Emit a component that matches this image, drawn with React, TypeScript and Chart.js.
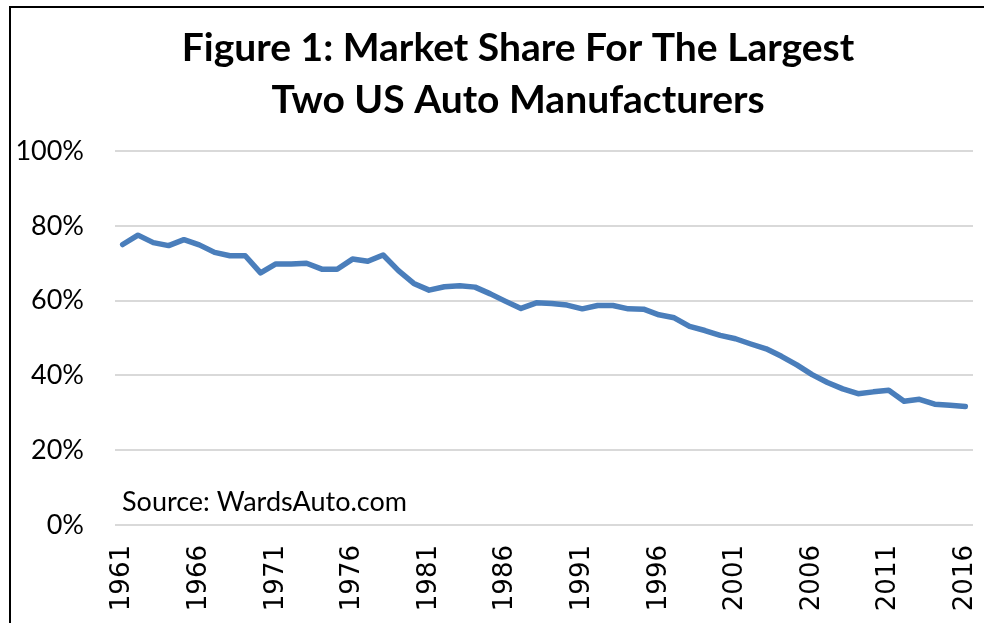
import React, { useEffect, useRef } from "react";
import { Chart, registerables } from "chart.js";

Chart.register(...registerables);

const years: string[] = [
  "1961", "1962", "1963", "1964", "1965", "1966", "1967", "1968", "1969", "1970",
  "1971", "1972", "1973", "1974", "1975", "1976", "1977", "1978", "1979", "1980",
  "1981", "1982", "1983", "1984", "1985", "1986", "1987", "1988", "1989", "1990",
  "1991", "1992", "1993", "1994", "1995", "1996", "1997", "1998", "1999", "2000",
  "2001", "2002", "2003", "2004", "2005", "2006", "2007", "2008", "2009", "2010",
  "2011", "2012", "2013", "2014", "2015", "2016",
];

const marketShare: number[] = [
  75.0, 77.5, 75.5, 74.7, 76.3, 74.9, 72.9, 72.0, 72.0, 67.4,
  69.8, 69.8, 70.0, 68.4, 68.4, 71.1, 70.5, 72.2, 68.0, 64.6,
  62.8, 63.7, 64.0, 63.6, 61.8, 59.8, 57.9, 59.4, 59.2, 58.8,
  57.8, 58.7, 58.7, 57.8, 57.7, 56.2, 55.4, 53.1, 52.0, 50.7,
  49.8, 48.4, 47.1, 45.1, 42.8, 40.2, 38.1, 36.4, 35.1, 35.6,
  36.0, 33.1, 33.6, 32.3, 32.0, 31.7,
];

const yMin = 0;
const yMax = 100;
const yStep = 20;
const labelEvery = 5;

const titleLines: string[] = [
  "Figure 1: Market Share For The Largest",
  "Two US Auto Manufacturers",
];
const sourceNote = "Source: WardsAuto.com";

const titlePlugin = {
  id: "twoLineTitle",
  afterDraw(chart: any) {
    const { ctx } = chart;
    ctx.save();
    ctx.font = "bold 39px Lato";
    ctx.fillStyle = "#000000";
    ctx.textAlign = "center";
    ctx.textBaseline = "middle";
    ctx.fillText(titleLines[0], 518, 48);
    ctx.fillText(titleLines[1], 518, 100);
    ctx.restore();
  },
};

const sourcePlugin = {
  id: "sourceNote",
  afterDraw(chart: any) {
    const { ctx, chartArea } = chart;
    const yScale = chart.scales.y;
    ctx.save();
    ctx.font = "27px Lato";
    ctx.fillStyle = "#000000";
    ctx.textAlign = "left";
    ctx.textBaseline = "middle";
    ctx.fillText(sourceNote, chartArea.left + 7, yScale.getPixelForValue(6.1));
    ctx.restore();
  },
};

export default function App() {
  const canvasRef = useRef<HTMLCanvasElement | null>(null);

  useEffect(() => {
    const canvas = canvasRef.current;
    if (!canvas) return;
    const chart = new Chart(canvas, {
      type: "line",
      data: {
        labels: years,
        datasets: [
          {
            label: "Market share",
            data: marketShare,
            borderColor: "#4a7ebb",
            backgroundColor: "#4a7ebb",
            borderWidth: 5.5,
            pointRadius: 0,
            tension: 0,
            borderJoinStyle: "round",
            borderCapStyle: "round",
            fill: false,
          },
        ],
      },
      options: {
        animation: false,
        responsive: false,
        devicePixelRatio: 1,
        layout: { padding: { left: 0, right: 11, top: 151, bottom: 0 } },
        plugins: {
          legend: { display: false },
          tooltip: { enabled: false },
          title: { display: false },
        },
        scales: {
          x: {
            type: "category",
            offset: true,
            grid: { display: false, drawTicks: false },
            border: { display: false },
            afterFit(scale: any) {
              scale.height = 98;
              scale.paddingLeft = 0;
              scale.paddingRight = 0;
            },
            ticks: {
              autoSkip: false,
              minRotation: 90,
              maxRotation: 90,
              padding: 20,
              color: "#000000",
              font: { family: "'DejaVu Sans'", size: 26 },
              callback(_v: any, i: number) {
                return i % labelEvery === 0 ? years[i] : "";
              },
            },
          },
          y: {
            min: yMin,
            max: yMax,
            grid: { color: "#d9d9d9", lineWidth: 2, drawTicks: false },
            border: { display: false },
            afterFit(scale: any) {
              scale.width = 115;
              scale.paddingTop = 0;
              scale.paddingBottom = 0;
            },
            ticks: {
              stepSize: yStep,
              padding: 31,
              color: "#000000",
              font: { family: "Lato", size: 27 },
              callback(v: any) {
                return v + "%";
              },
            },
          },
        },
      },
      plugins: [titlePlugin, sourcePlugin],
    } as any);
    return () => chart.destroy();
  }, []);

  return (
    <div
      style={{
        position: "fixed",
        left: 0,
        top: 0,
        width: 984,
        height: 623,
        background: "#ffffff",
        overflow: "hidden",
      }}
    >
      <canvas
        ref={canvasRef}
        width={984}
        height={623}
        style={{ display: "block", width: 984, height: 623 }}
      />
      <div
        style={{
          position: "absolute",
          left: 9,
          top: 6,
          right: 0,
          bottom: 0,
          borderLeft: "2px solid #000000",
          borderTop: "2px solid #000000",
          pointerEvents: "none",
        }}
      />
    </div>
  );
}
